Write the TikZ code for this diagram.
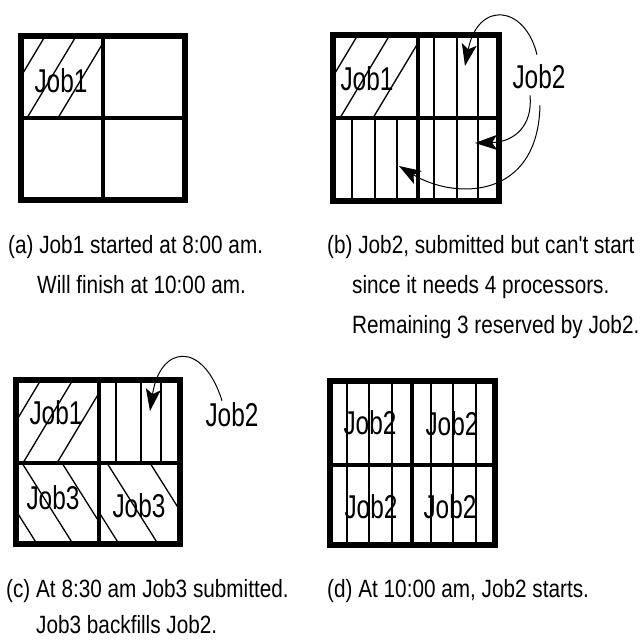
\documentclass[tikz,border=0pt]{standalone}
\usepackage{fontspec}
\setmainfont{Liberation Sans}
\newfontfamily\capfont[FakeStretch=0.83]{Liberation Sans}
\newfontfamily\jobfont[FakeStretch=0.74]{Liberation Sans}
\usetikzlibrary{arrows.meta}
\newcommand\mygrid[6]{%
  \draw[innerline] (#5,#2) -- (#5,#4);
  \draw[innerline] (#1,#6) -- (#3,#6);
  \draw[outerline] (#1,#2) rectangle (#3,#4);}
\begin{document}
\begin{tikzpicture}[x=1pt,y=-1pt,
  outerline/.style={line width=6pt},
  innerline/.style={line width=4.5pt},
  hatch/.style={line width=1.3pt},
  joblabel/.style={font=\jobfont\fontsize{33}{33}\selectfont, inner sep=0pt},
  caption/.style={font=\capfont\fontsize{25}{25}\selectfont, anchor=base west, inner sep=0pt},
  arr/.style={line width=1pt, -{Stealth[length=22pt,width=15pt,inset=5pt]}}]
\useasboundingbox (0,0) rectangle (641,640);

% ---------- (a) ----------
\begin{scope}
  \clip (21,36) rectangle (103,118);
  \foreach \x in {-4,27,58} \draw[hatch] (\x,118) -- ++(60,-100);
\end{scope}
\mygrid{21}{36}{185}{200}{103}{118}
\node[joblabel] (j1a) at (61,81) {Job1};

% ---------- (b) ----------
\begin{scope}
  \clip (333,35) rectangle (418,118);
  \foreach \x in {308,340,373} \draw[hatch] (\x,118) -- ++(60,-100);
\end{scope}
\foreach \x in {434,457,478} \draw[hatch] (\x,35) -- (\x,201);
\foreach \x in {352,375,397} \draw[hatch] (\x,118) -- (\x,201);
\mygrid{333}{35}{499}{201}{418}{118}
\node[joblabel] (j1b) at (367,79) {Job1};
\node[joblabel] (j2b) at (539,77) {Job2};
\coordinate (t1) at (465,66);
\coordinate (t2) at (475,143);
\coordinate (t3) at (399,166);
\draw[arr] ([xshift=-2pt,yshift=10pt]j2b.north) .. controls (525,5) and (478,0) .. (t1);
\draw[arr] ([xshift=-9pt,yshift=-6pt]j2b.south) .. controls (533,125) and (515,142) .. (t2);
\draw[arr] ([xshift=1pt,yshift=-16pt]j2b.south) .. controls (538,200) and (455,200) .. (t3);

% ---------- (c) ----------
\begin{scope}
  \clip (16,380) rectangle (99,463);
  \foreach \x in {-9,23,57} \draw[hatch] (\x,463) -- ++(60,-100);
\end{scope}
\begin{scope}
  \clip (16,463) rectangle (99,544);
  \foreach \x in {-14,22,62} \draw[hatch] (\x,463) -- ++(63,100);
\end{scope}
\begin{scope}
  \clip (99,463) rectangle (180,544);
  \foreach \x in {68,107,150} \draw[hatch] (\x,463) -- ++(63,100);
\end{scope}
\foreach \x in {116,141,161} \draw[hatch] (\x,380) -- (\x,463);
\mygrid{16}{380}{180}{544}{99}{463}
\node[joblabel] (j1c) at (56,413) {Job1};
\node[joblabel] (j3c1) at (53,498) {Job3};
\node[joblabel] (j3c2) at (139,506) {Job3};
\node[joblabel] (j2c) at (232,415) {Job2};
\coordinate (t4) at (150,411);
\draw[arr] ([xshift=-10pt,yshift=2pt]j2c.north) .. controls (203,340) and (160,345) .. (t4);

% ---------- (d) ----------
\foreach \x in {347,369,392,431,453,476} \draw[hatch] (\x,381) -- (\x,545);
\mygrid{330}{381}{495}{545}{412}{465}
\node[joblabel] (j2d1) at (370,423) {Job2};
\node[joblabel] (j2d2) at (452,424) {Job2};
\node[joblabel] (j2d3) at (371,507) {Job2};
\node[joblabel] (j2d4) at (450,507) {Job2};

% ---------- captions ----------
\node[caption] (capa1) at (8,253) {(a) Job1 started at 8:00 am.};
\node[caption] (capa2) at (37,293) {Will finish at 10:00 am.};
\node[caption] (capb1) at (327,253) {(b) Job2, submitted but can't start};
\node[caption] (capb2) at (352,293) {since it needs 4 processors.};
\node[caption] (capb3) at (352,333) {Remaining 3 reserved by Job2.};
\node[caption] (capc1) at (6,597) {(c) At 8:30 am Job3 submitted.};
\node[caption] (capc2) at (36,633) {Job3 backfills Job2.};
\node[caption] (capd1) at (327,597) {(d) At 10:00 am, Job2 starts.};
\end{tikzpicture}
\end{document}
